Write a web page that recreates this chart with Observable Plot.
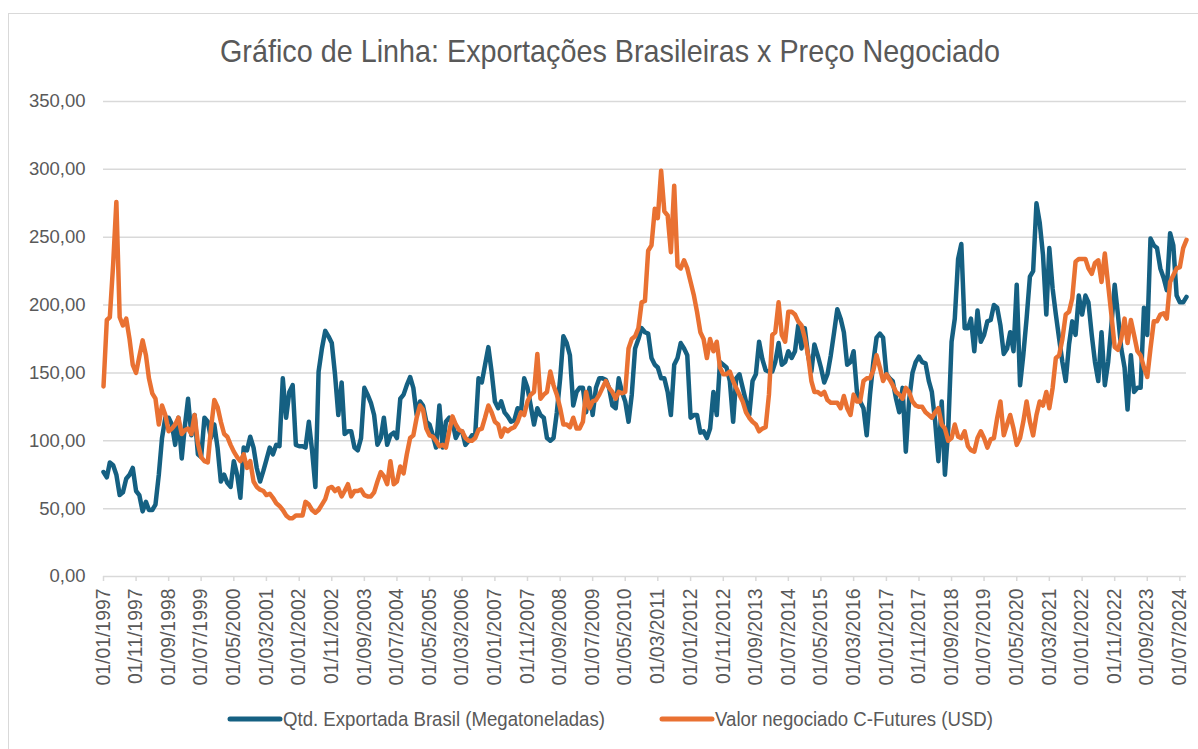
<!DOCTYPE html>
<html><head><meta charset="utf-8">
<script src="https://cdn.jsdelivr.net/npm/d3@7"></script>
<script src="https://cdn.jsdelivr.net/npm/@observablehq/plot@0.6"></script>
<style>
body{margin:0;background:#fff;width:1198px;height:749px;overflow:hidden;position:relative;}
#frame{position:absolute;left:8px;top:13px;width:1400px;height:900px;border-left:1.5px solid #d9d9d9;border-top:1.5px solid #d9d9d9;box-sizing:border-box;}
#title{position:absolute;left:0;top:0;}
#chart{position:absolute;left:0;top:80px;}
#legend{position:absolute;left:0;top:700px;}
</style></head><body>
<div id="frame"></div>
<svg id="title" width="1198" height="80"></svg>
<div id="chart"></div>
<svg id="legend" width="1198" height="40"></svg>
<script>
const chartTitle = "Gráfico de Linha: Exportações Brasileiras x Preço Negociado";
const seriesNames = ["Qtd. Exportada Brasil (Megatoneladas)", "Valor negociado C-Futures (USD)"];
const seriesColors = ["#156082", "#E97132"];
const startMonth = "1997-01-01";
const yTicks = [0, 50, 100, 150, 200, 250, 300, 350];
const xTickLabels = ["01/01/1997","01/11/1997","01/09/1998","01/07/1999","01/05/2000","01/03/2001","01/01/2002","01/11/2002","01/09/2003","01/07/2004","01/05/2005","01/03/2006","01/01/2007","01/11/2007","01/09/2008","01/07/2009","01/05/2010","01/03/2011","01/01/2012","01/11/2012","01/09/2013","01/07/2014","01/05/2015","01/03/2016","01/01/2017","01/11/2017","01/09/2018","01/07/2019","01/05/2020","01/03/2021","01/01/2022","01/11/2022","01/09/2023","01/07/2024"];

// Monthly values, Jan 1997 onward
const exportQtd = [77,73,84,82,75,60,62,72,75,80,
63,60,48,55,49,49,53,75,102,117,
117,112,97,117,87,112,131,104,119,90,
88,117,114,102,112,95,70,75,69,66,
85,75,58,95,93,103,95,80,70,78,
86,95,90,97,96,146,117,136,141,97,
96,96,95,114,93,66,151,168,181,177,
172,149,119,143,105,107,107,95,93,102,
139,134,128,119,97,102,117,97,104,106,
102,131,134,141,147,139,119,129,126,114,
112,104,95,126,95,114,117,114,102,107,
107,97,100,104,104,146,143,156,169,151,
129,124,129,121,118,114,115,124,121,146,
139,126,112,124,119,117,102,100,102,121,
146,177,172,163,126,136,139,139,121,139,
119,139,146,146,145,139,126,124,146,136,
129,114,134,168,175,183,180,179,161,156,
154,146,146,136,119,156,161,172,168,163,
117,119,119,106,107,102,109,136,119,158,
156,154,144,114,146,149,139,129,119,144,
149,173,160,152,151,151,158,172,156,158,
166,161,166,185,168,183,163,151,171,163,
154,143,149,163,180,197,190,180,156,158,
166,136,129,124,104,134,158,176,179,176,
149,146,144,131,121,139,92,130,150,158,
162,158,157,144,136,114,85,129,75,109,
173,190,234,245,183,183,190,166,196,173,
178,188,189,200,198,185,164,168,180,166,
215,141,163,190,221,225,275,261,237,193,
242,212,193,175,158,144,171,188,178,207,
193,207,202,178,158,144,180,141,158,185,
215,193,168,154,123,163,136,139,139,198,
178,249,244,242,227,220,211,253,244,207,
202,202,206];

const cFutures = [140,189,191,230,276,191,185,190,175,156,
150,162,174,163,146,135,131,112,126,119,
107,109,112,117,105,108,109,105,119,98,
88,85,84,109,130,125,114,105,103,97,
92,88,85,90,80,85,70,66,64,63,
60,61,58,54,52,49,45,43,43,45,
45,45,55,53,49,47,49,53,57,65,
66,63,65,59,63,68,59,63,63,64,
60,59,59,62,70,77,74,68,85,68,
70,81,76,90,102,104,117,126,123,109,
104,103,100,96,97,95,107,118,112,108,
107,102,100,100,102,108,109,117,126,121,
114,112,103,109,107,109,110,114,121,119,
129,134,136,164,131,134,136,151,141,134,
124,112,112,110,117,109,109,114,136,124,
129,130,134,139,144,139,136,131,136,135,
136,168,175,177,183,202,203,240,244,271,
264,299,269,266,239,288,229,227,233,227,
217,207,195,180,175,161,175,166,173,154,
149,149,151,144,139,134,129,121,117,114,
112,107,109,110,134,178,180,202,178,173,
195,195,193,188,185,176,163,144,136,136,
134,136,130,128,128,128,124,133,124,119,
134,129,129,144,146,146,152,163,154,144,
149,145,141,136,134,131,139,136,129,126,
125,125,121,119,117,121,124,112,109,100,
102,112,103,102,107,96,93,92,102,107,
102,95,101,102,117,129,104,112,119,109,
97,102,114,129,114,104,119,129,126,136,
124,139,161,163,175,193,195,205,232,234,
234,234,227,223,231,233,217,238,215,193,
169,167,175,190,172,189,178,166,163,154,
147,168,188,188,193,194,190,217,222,227,
228,242,248];

const start = new Date(startMonth + "T00:00:00Z");
const monthOf = i => d3.utcMonth.offset(start, i);
const rowsA = exportQtd.map((v, i) => ({date: monthOf(i), value: v}));
const rowsB = cFutures.map((v, i) => ({date: monthOf(i), value: v}));
const tickDates = xTickLabels.map(s => { const [d, m, y] = s.split("/"); return new Date(Date.UTC(+y, +m - 1, +d)); });
const fmtDate = d3.utcFormat("%d/%m/%Y");
const fmtNum = d => d.toFixed(2).replace(".", ",");

const chart = Plot.plot({
  width: 1198, height: 620,
  marginLeft: 103, marginRight: 12, marginTop: 21, marginBottom: 124,
  style: {fontFamily: "'Liberation Sans', Arial, sans-serif", fontSize: "18.5px", color: "#595959", background: "transparent", overflow: "visible"},
  x: {type: "utc", domain: [start, monthOf(exportQtd.length - 1)], label: null},
  y: {domain: [0, 350], label: null},
  marks: [
    Plot.gridY({ticks: yTicks.filter(d => d > 0), stroke: "#d9d9d9", strokeOpacity: 1, strokeWidth: 1.5}),
    Plot.ruleY([0], {stroke: "#d9d9d9", strokeWidth: 1.5}),
    Plot.axisY({ticks: yTicks, tickSize: 0, tickPadding: 18, tickFormat: fmtNum, fill: "#595959", label: null}),
    Plot.axisX({ticks: tickDates, tickSize: 5, tickPadding: 7, tickRotate: -90, tickFormat: fmtDate, stroke: "#d9d9d9", strokeWidth: 1.5, fill: "#595959", fontSize: 19.4, label: null}),
    Plot.line(rowsA, {x: "date", y: "value", stroke: seriesColors[0], strokeWidth: 4.5}),
    Plot.line(rowsB, {x: "date", y: "value", stroke: seriesColors[1], strokeWidth: 4.5})
  ]
});
document.getElementById("chart").append(chart);

const ns = "http://www.w3.org/2000/svg";
function addText(svg, attrs, str) {
  const t = document.createElementNS(ns, "text");
  for (const k in attrs) t.setAttribute(k, attrs[k]);
  t.textContent = str;
  svg.appendChild(t);
}
const titleSvg = document.getElementById("title");
addText(titleSvg, {x: 610, y: 62, "text-anchor": "middle", "font-family": "'Liberation Sans Narrow', 'Liberation Sans', sans-serif", "font-size": 32, fill: "#595959", textLength: 780, lengthAdjust: "spacingAndGlyphs"}, chartTitle);

const leg = document.getElementById("legend");
const legendItems = [{x0: 230, x1: 280, tx: 283, w: 322}, {x0: 662, x1: 712, tx: 715, w: 278}];
legendItems.forEach((it, i) => {
  const l = document.createElementNS(ns, "line");
  l.setAttribute("x1", it.x0); l.setAttribute("x2", it.x1); l.setAttribute("y1", 19); l.setAttribute("y2", 19);
  l.setAttribute("stroke", seriesColors[i]); l.setAttribute("stroke-width", 5); l.setAttribute("stroke-linecap", "round");
  leg.appendChild(l);
  addText(leg, {x: it.tx, y: 26, "font-family": "'Liberation Sans Narrow', 'Liberation Sans', sans-serif", "font-size": 20.5, fill: "#595959", textLength: it.w, lengthAdjust: "spacingAndGlyphs"}, seriesNames[i]);
});
</script>
</body></html>
